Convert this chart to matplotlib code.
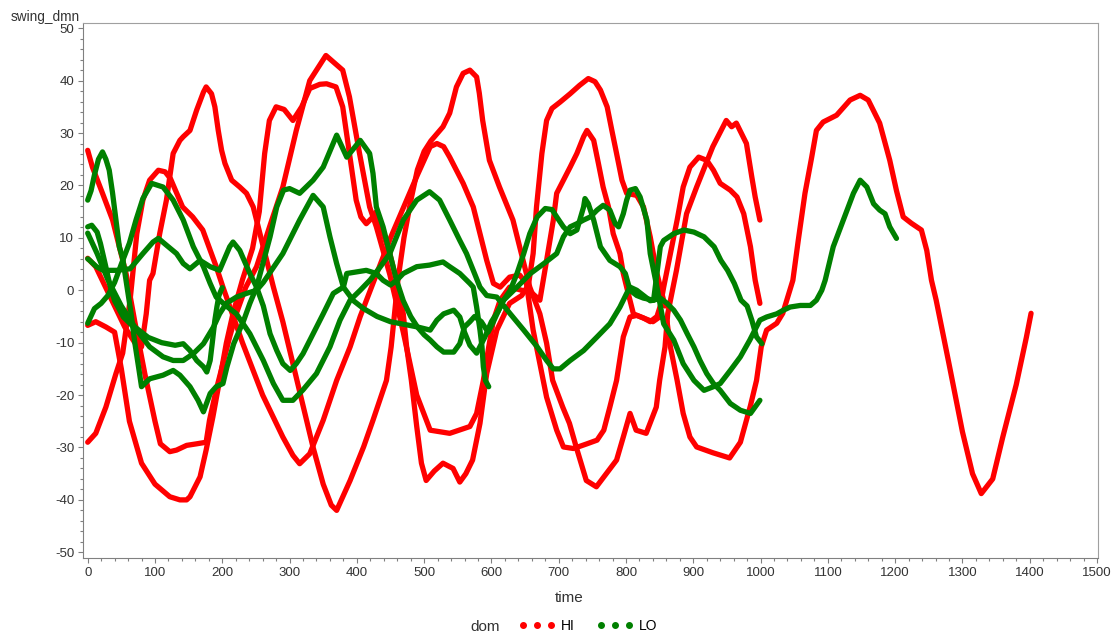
import matplotlib
matplotlib.use("Agg")
import matplotlib.pyplot as plt
from matplotlib.lines import Line2D
import numpy as np

RED = "#FF0000"
GREEN = "#008000"

# ---------------- data (time, swing_dmn) ----------------
# HI group
hi_a_t = [0,7,22,37,47,57,70,85,100,108,122,132,147,162,176,181,191,201,211,221,235,251,270,290,310,330,354,379,389,404,419,429,449,469,489,509,538,568,578,588,596,603,613,627,645,660,672,682,692,697,707,717,727,737,742,752,759,766,774,781,791,796,801,811,826,840,851,861,866,876,885,895,905,929,954,970,985,994,1001,1009,1024,1033,1048,1056,1066,1076,1083,1093,1113,1133,1148,1160,1177,1192,1202,1212,1224,1239,1247,1254,1261,1280,1300,1315,1328,1345,1360,1380,1395,1402]
hi_a_v = [26.7,23.5,18.5,13.4,8.3,3.2,-6,-16,-25,-29.3,-30.8,-30.5,-29.6,-29.3,-29,-24.8,-19,-14,-8.9,-4.4,0.6,4.5,12,19.7,30.5,40,44.8,42,36.9,26.1,15.9,12.1,3,-8,-20,-26.7,-27.3,-26,-23.5,-17.2,-10.8,-5.7,-1.9,0.6,0,-0.5,-1.9,5.7,13.4,18.5,21,23.5,26.1,29.3,30.5,28.6,24.2,19.7,15.9,10.8,7,3.2,0.6,-4.5,-5.3,-6,-5,-6,-10.8,-17.2,-23.5,-28,-29.9,-31,-32,-29,-22,-17.2,-10.8,-7.6,-6.3,-4.4,1.9,9.5,18.5,25.4,30.5,32.1,33.4,36.3,37.2,36.3,31.9,24.8,19,14,12.8,11.5,7.6,1.9,-1.9,-14,-27,-35,-38.8,-36,-28,-18,-9,-4.4]

hi_b_t = [0,12,25,40,55,70,80,87,92,97,107,117,127,137,142,152,162,172,176,184,189,194,199,204,214,226,236,246,256,266,276,290,305,320,335,350,362,370,390,410,424,434,444,451,456,461,470,480,490,500,510,520,528,538,548,558,568,578,582,587,597,612,632,657,672,682,691,706,716,726,741,756,786,796,806,815,830,845,850,858,862,875,890,905,929,949,957,964,979,987,992,999]
hi_b_v = [6.1,4.5,1,-3,-7,-10,-10.8,-4.5,1.9,3.2,10.8,17.2,26.1,28.6,29.3,30.5,34.4,37.8,38.8,37.5,35,30.5,26.7,24.2,21,19.7,18.5,15.9,10.8,5.7,0.6,-6,-14,-22,-30,-37,-41,-42,-36.3,-29.9,-24.8,-21,-17.2,-10.8,-4.5,1.9,10,17,23,26.5,28.5,30,31.2,33.8,38.8,41.4,42,40.7,37.6,32.4,24.8,19.7,13.4,0.6,-4.5,-10.1,-17.2,-22.3,-25.4,-29.9,-36.3,-37.5,-32.4,-28,-23.5,-26.7,-27.3,-22.3,-17.2,-10.8,-4.5,3.8,14.6,19.7,27.4,32.4,31.2,31.9,28,21.6,17.8,13.4]

hi_c_t = [0,12,27,40,50,62,80,100,122,137,147,152,167,176,186,196,206,216,230,245,255,263,270,280,292,305,318,330,345,355,369,379,389,399,406,414,424,429,439,449,459,469,474,481,489,496,503,515,528,543,553,562,572,583,593,608,627,645,655,662,667,675,682,690,702,717,731,744,754,762,772,779,786,794,801,816,826,836,846,858]
hi_c_v = [-6.7,-6,-7,-8,-15,-25,-33,-37,-39.4,-40,-40,-39.4,-35.6,-30.5,-24.2,-17.2,-10.1,-4.4,2,8,15,26.1,32.4,35,34.5,32.4,35,38.5,39.3,39.4,38.8,35,26.1,17.2,14,12.7,14,15,10.8,7,1.9,-4.5,-10.8,-17.2,-26,-33,-36.3,-34.5,-33,-34,-36.6,-35,-32.4,-25.4,-15.9,-7.6,-2.5,-1,1,7,15.9,26.1,32.4,34.7,35.9,37.5,39.1,40.4,39.8,38.2,35,30.5,26.1,21,18.5,18.1,15.9,10.2,3.2,-3]

hi_d_t = [0,12,27,42,52,63,73,82,92,105,115,123,141,156,171,191,201,230,260,290,305,315,330,350,370,390,405,420,435,450,470,490,509,519,529,538,548,558,573,583,593,603,613,627,642,652,662,672,682,697,707,722,742,757,767,776,786,796,806,816,826,836,846,851,856,866,876,885,895,908,920,930,940,955,965,975,985,992,999]
hi_d_v = [-29,-27.3,-22.3,-15.9,-12,-1.9,10.8,17.2,21,22.9,22.6,21.3,15.9,14,11.5,4.5,0.6,-10,-20,-28,-31.5,-33.1,-31.2,-24.8,-17.2,-10.8,-5,0,5,10,16,22,27.4,28,27.4,25.4,22.9,20.4,15.9,10.8,5.7,1.3,0.6,2.5,2.9,1.3,-7.6,-14,-20.4,-26.7,-29.9,-30.2,-29.3,-28.6,-26.7,-22.3,-17.2,-8.9,-5.1,-4.8,-5.3,-6,-5,-3,0.6,7,13.4,19.7,23.5,25.4,24.8,22.9,20.4,19.1,17.8,14.6,8.3,1.9,-2.5]

# LO group
lo_a_t = [0,5,10,16,22,27,32,37,42,47,52,58,64,70,76,80,92,112,127,137,152,164,172,182,191,201,207,217,232,241,251,271,281,291,300,315,335,350,370,385,405,419,424,429,439,449,459,469,480,490,500,509,519,529,544,553,560,568,575,585,595,603,610,618,638,658,678,697,707,717,727,737,747,757,766,776,784,789,796,801,806,814,821,831,836,846,856,871,881,885,901,916,930,940,955,970,984,999,1009,1024,1034,1044,1059,1074,1083,1091,1096,1108,1123,1138,1148,1158,1168,1177,1185,1192,1202]
lo_a_v = [17.2,19,22,25,26.4,25,22.9,18.5,13.4,8.3,6.1,1,-4,-10,-15,-18.4,-16.9,-16.2,-15.3,-16.2,-18.4,-21,-23.2,-19.7,-18.4,-17.8,-14.6,-10.2,-5.7,-2.5,0.6,10.2,15.9,19.1,19.4,18.5,21,23.5,29.6,25.4,28.6,26.1,22.3,15.9,12.1,7,1.9,-2,-5,-7,-8.5,-9.5,-10.8,-11.8,-11.8,-10.2,-7,-6,-5,-6,-8,-6,-4,-1.9,0.6,3.2,5.1,7,10.2,12.1,12.7,13.4,14,15.3,16.2,15.3,12.7,12.1,14.6,17.2,19.1,19.4,17.8,13.4,7,0.6,-6.4,-9.5,-12.7,-14,-17.2,-19.1,-18.4,-17.8,-15.3,-12.7,-9.5,-5.7,-5.1,-4.5,-3.8,-3.2,-2.9,-2.9,-1.9,0,1.9,8.3,13.4,18.5,21,19.7,16.5,15.3,14.6,12.1,9.9]

lo_b_t = [0,6,14,19,26,33,40,53,73,92,112,127,142,157,172,187,196,206,221,236,251,261,290,315,335,350,360,370,380,395,410,430,450,470,490,509,519,529,544,553,560,568,578,590,600,610,618,628,638,648,657,668,680,690,697,707,717,727,737,739,744,752,762,776,791,799,806,816,826,841,851,861,871,881,891,901,910,920,930,940,955,970,985,999]
lo_b_v = [12.1,12.4,11.1,8.9,5,1,-2,-5.1,-7.6,-10.8,-12.7,-13.4,-13.4,-12.1,-10.2,-7,-4.5,-2.5,-1.3,-0.6,0,1.5,7,13.4,18.1,15.9,10.2,5.1,0.6,-2,-3.5,-5,-6,-6.5,-7,-7.6,-5.7,-4.5,-3.8,-5.1,-8,-10.5,-12,-9,-6,-4,-1.9,0,3.2,7,10.8,14,15.6,15.4,14,12.1,10.8,11.5,15.9,17.5,16.5,13.4,8.3,5.7,4.5,3.2,0,-1,-1.5,-1.9,-1.5,-2.5,-3.8,-5.7,-8.3,-10.8,-13.4,-15.9,-17.8,-19.1,-21.6,-22.9,-23.5,-21]

lo_c_t = [0,3,13,23,43,63,82,97,105,117,132,142,152,167,182,196,211,216,226,241,251,261,271,281,290,301,310,320,335,350,365,380,385,414,429,439,450,460,469,489,508,528,538,553,568,573,578,583,586,588,591,596]
lo_c_v = [6,5.7,4.5,3.8,3.8,4.1,7,9.2,9.9,8.6,7,5.1,4.1,5.7,4.5,3.8,8.3,9.2,7.6,3.2,0.6,-3,-8.3,-11.5,-14,-15.3,-14,-12.1,-8.3,-4.5,-0.6,0.6,3.2,3.8,3.2,1.9,1,2,3.2,4.5,4.8,5.4,4.5,3.2,1.3,0.6,-3.2,-7.6,-10.8,-14.6,-17.2,-18.4]

lo_d_t = [0,10,20,30,40,50,62,72,82,95,112,127,142,157,172,182,191,206,221,241,261,276,290,305,320,340,360,375,390,405,420,435,449,469,489,508,523,538,553,563,573,583,593,608,628,648,668,682,692,702,717,737,757,776,791,801,806,816,826,836,841,846,851,856,871,886,901,916,931,941,951,961,971,980,987,994,1002]
lo_d_v = [-6.3,-3.5,-2.5,-1,1.5,5,9,13.5,17.5,20.4,19.7,17.2,13.4,8.3,4.5,1.3,-1.3,-3,-4.5,-8.3,-13.4,-17.8,-21,-21,-19,-15.9,-10.8,-5.7,-1.9,0,2,4.5,7,13.4,17.2,18.8,17.2,13.4,9.5,7,3.8,0.6,-1,-1.3,-4.5,-7.6,-10.8,-13.4,-15,-15,-13.4,-11.5,-8.9,-6.4,-3.2,-0.6,0.6,0,-1,-2,-1.9,3.2,8.3,9.5,10.8,11.5,11.1,10.2,8.3,5.7,3.8,1.3,-1.9,-3,-5.7,-8.9,-10.2]

lo_e_t = [0,14,30,50,70,90,110,130,142,152,162,172,177,182,185,189,192,195,200]
lo_e_v = [10.9,7,2,-3,-7,-9,-10,-10.5,-10.2,-11.5,-13.4,-14.6,-15.6,-13.4,-10.2,-5.7,-3.2,-1,0.5]

hi_series = [(hi_a_t, hi_a_v), (hi_b_t, hi_b_v), (hi_c_t, hi_c_v), (hi_d_t, hi_d_v)]
lo_series = [(lo_a_t, lo_a_v), (lo_b_t, lo_b_v), (lo_c_t, lo_c_v), (lo_d_t, lo_d_v), (lo_e_t, lo_e_v)]

# ---------------- figure ----------------
plt.rcParams['font.family'] = ['Liberation Sans', 'DejaVu Sans']
plt.rcParams['axes.unicode_minus'] = False
fig = plt.figure(figsize=(11.17, 6.35), dpi=100)
ax = fig.add_axes([0.0746, 0.122, 0.9087, 0.8418])

for t, v in hi_series:
    ax.plot(t, v, color=RED, lw=3.8, solid_capstyle='round', solid_joinstyle='round', zorder=2)
for t, v in lo_series:
    ax.plot(t, v, color=GREEN, lw=3.8, solid_capstyle='round', solid_joinstyle='round', zorder=3)

ax.set_xlim(-6.5, 1502)
ax.set_ylim(-51, 51)
ax.set_xticks(np.arange(0, 1501, 100))
ax.set_xticks(np.arange(0, 1501, 20), minor=True)
ax.set_yticks(np.arange(-50, 51, 10))
ax.set_yticks(np.arange(-50, 51, 2), minor=True)

for s in ['top', 'right']:
    ax.spines[s].set_color('#A0A0A0')
    ax.spines[s].set_linewidth(0.8)
for s in ['left', 'bottom']:
    ax.spines[s].set_color('#808080')
    ax.spines[s].set_linewidth(0.8)
ax.tick_params(which='major', length=3.5, width=0.8, color='#808080', labelsize=9.5,
               labelcolor='#333333', pad=3)
ax.tick_params(which='minor', length=2.2, width=0.8, color='#808080')

fig.text(569/1117, 1 - 598/635, 'time', fontsize=11, color='#333333', ha='center', va='center')
fig.text(11/1117, 1 - 17/635, 'swing_dmn', fontsize=9.8, color='#333333', ha='left', va='center')

fig.text(485/1117, 1 - 627/635, 'dom', fontsize=11, color='#333333', ha='center', va='center')
handles = [Line2D([0], [0], color=RED, marker='o', ls='none', ms=4),
           Line2D([0], [0], color=GREEN, marker='o', ls='none', ms=4)]
fig.legend(handles, ['HI', 'LO'], loc='center left', bbox_to_anchor=(512/1117, 1 - 626/635),
           ncol=2, numpoints=3, frameon=False, fontsize=10, handlelength=2.6,
           handletextpad=0.4, columnspacing=1.6, borderpad=0, markerscale=1)

fig.savefig('out.png', dpi=100)
